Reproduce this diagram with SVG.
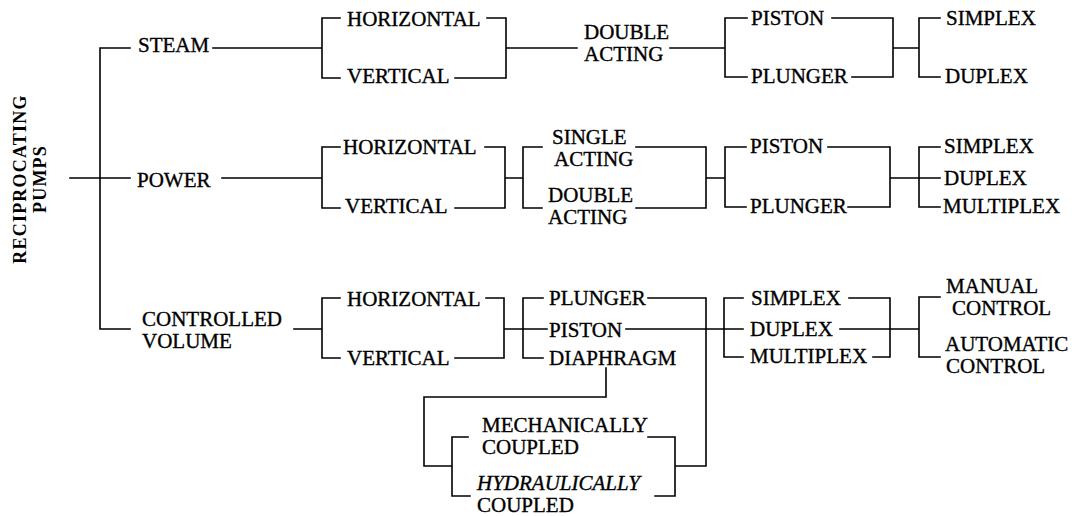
<svg xmlns="http://www.w3.org/2000/svg" width="1080" height="516" viewBox="0 0 1080 516">
  <style>
    .lbl { font-family: "Liberation Serif", "Times New Roman", serif; font-size: 21px; fill: #000; stroke: #000; stroke-width: 0.35px; }
    .it { font-style: italic; }
    .root { font-family: "Liberation Serif", "Times New Roman", serif; font-size: 18px; font-weight: bold; letter-spacing: 1.2px; fill: #000; }
    .wire { fill: none; stroke: #000; stroke-width: 1.6; stroke-linecap: square; stroke-linejoin: miter; }
  </style>
  <rect x="0" y="0" width="1080" height="516" fill="#fff"/>

  <!-- connectors -->
  <g id="connectors" class="wire">
    <!-- root -->
    <path d="M70,178 H130 M100,48 V329 M100,48 H130 M100,329 H130"/>
    <!-- steam branch -->
    <path d="M213,48 H322 M322,18 V78 M322,18 H340 M322,78 H340"/>
    <path d="M487,18 H506 V78 H455 M506,48 H577"/>
    <path d="M670,48 H725 M725,18 V77 M725,18 H747 M725,77 H747"/>
    <path d="M832,18 H893 V77 H852 M893,48 H919 M919,18 V77 M919,18 H940 M919,77 H940"/>
    <!-- power branch -->
    <path d="M222,178 H322 M322,147 V208 M322,147 H340 M322,208 H340"/>
    <path d="M485,147 H505 V208 H455 M505,178 H523 M523,147 V208 M523,147 H542 M523,208 H542"/>
    <path d="M636,147 H706 V208 H636 M706,178 H725 M725,147 V207 M725,147 H746 M725,207 H746"/>
    <path d="M828,147 H890 V207 H848 M890,178 H940 M919,147 V207 M919,147 H940 M919,207 H940"/>
    <!-- controlled volume branch -->
    <path d="M294,329 H322 M322,298 V358 M322,298 H340 M322,358 H340"/>
    <path d="M486,298 H504 V358 H455 M504,329 H547 M523,298 V358 M523,298 H543 M523,358 H543"/>
    <path d="M648,298 H706 V466 H675 M675,437 V496 M648,437 H675 M655,496 H675"/>
    <path d="M606,368 V397 H424 V466 H452 M452,437 V496 M452,437 H468 M452,496 H470"/>
    <path d="M626,329 H743 M724,298 V357 M724,298 H743 M724,357 H743"/>
    <path d="M849,298 H890 V357 H873 M840,329 H919 M919,297 V357 M919,297 H940 M919,357 H940"/>
  </g>

  <!-- root node -->
  <g id="reciprocating-pumps">
    <text class="root" transform="translate(26,179) rotate(-90)" text-anchor="middle">RECIPROCATING</text>
    <text class="root" transform="translate(46,179) rotate(-90)" text-anchor="middle">PUMPS</text>
  </g>

  <!-- first level -->
  <g id="steam"><text class="lbl" x="138" y="52">STEAM</text></g>
  <g id="power"><text class="lbl" x="137" y="187">POWER</text></g>
  <g id="controlled-volume">
    <text class="lbl" x="142" y="326">CONTROLLED</text>
    <text class="lbl" x="142" y="348">VOLUME</text>
  </g>

  <!-- steam sub-tree -->
  <g id="steam-horizontal"><text class="lbl" x="347" y="26">HORIZONTAL</text></g>
  <g id="steam-vertical"><text class="lbl" x="347" y="83">VERTICAL</text></g>
  <g id="steam-double-acting">
    <text class="lbl" x="584" y="39">DOUBLE</text>
    <text class="lbl" x="584" y="61">ACTING</text>
  </g>
  <g id="steam-piston"><text class="lbl" x="751" y="25">PISTON</text></g>
  <g id="steam-plunger"><text class="lbl" x="751" y="83">PLUNGER</text></g>
  <g id="steam-simplex"><text class="lbl" x="946" y="25">SIMPLEX</text></g>
  <g id="steam-duplex"><text class="lbl" x="945" y="83">DUPLEX</text></g>

  <!-- power sub-tree -->
  <g id="power-horizontal"><text class="lbl" x="343" y="154">HORIZONTAL</text></g>
  <g id="power-vertical"><text class="lbl" x="345" y="213">VERTICAL</text></g>
  <g id="power-single-acting">
    <text class="lbl" x="552" y="144">SINGLE</text>
    <text class="lbl" x="554" y="166">ACTING</text>
  </g>
  <g id="power-double-acting">
    <text class="lbl" x="548" y="202">DOUBLE</text>
    <text class="lbl" x="548" y="224">ACTING</text>
  </g>
  <g id="power-piston"><text class="lbl" x="750" y="153">PISTON</text></g>
  <g id="power-plunger"><text class="lbl" x="750" y="213">PLUNGER</text></g>
  <g id="power-simplex"><text class="lbl" x="944" y="153">SIMPLEX</text></g>
  <g id="power-duplex"><text class="lbl" x="944" y="185">DUPLEX</text></g>
  <g id="power-multiplex"><text class="lbl" x="943" y="213">MULTIPLEX</text></g>

  <!-- controlled volume sub-tree -->
  <g id="cv-horizontal"><text class="lbl" x="347" y="306">HORIZONTAL</text></g>
  <g id="cv-vertical"><text class="lbl" x="347" y="365">VERTICAL</text></g>
  <g id="cv-plunger"><text class="lbl" x="549" y="305">PLUNGER</text></g>
  <g id="cv-piston"><text class="lbl" x="549" y="337">PISTON</text></g>
  <g id="cv-diaphragm"><text class="lbl" x="549" y="365">DIAPHRAGM</text></g>
  <g id="cv-mechanically-coupled">
    <text class="lbl" x="482" y="432">MECHANICALLY</text>
    <text class="lbl" x="482" y="454">COUPLED</text>
  </g>
  <g id="cv-hydraulically-coupled">
    <text class="lbl it" x="477" y="490">HYDRAULICALLY</text>
    <text class="lbl" x="477" y="512">COUPLED</text>
  </g>
  <g id="cv-simplex"><text class="lbl" x="751" y="305">SIMPLEX</text></g>
  <g id="cv-duplex"><text class="lbl" x="750" y="336">DUPLEX</text></g>
  <g id="cv-multiplex"><text class="lbl" x="750" y="363">MULTIPLEX</text></g>
  <g id="cv-manual-control">
    <text class="lbl" x="946" y="293">MANUAL</text>
    <text class="lbl" x="952" y="315">CONTROL</text>
  </g>
  <g id="cv-automatic-control">
    <text class="lbl" x="945" y="351">AUTOMATIC</text>
    <text class="lbl" x="946" y="373">CONTROL</text>
  </g>
</svg>
